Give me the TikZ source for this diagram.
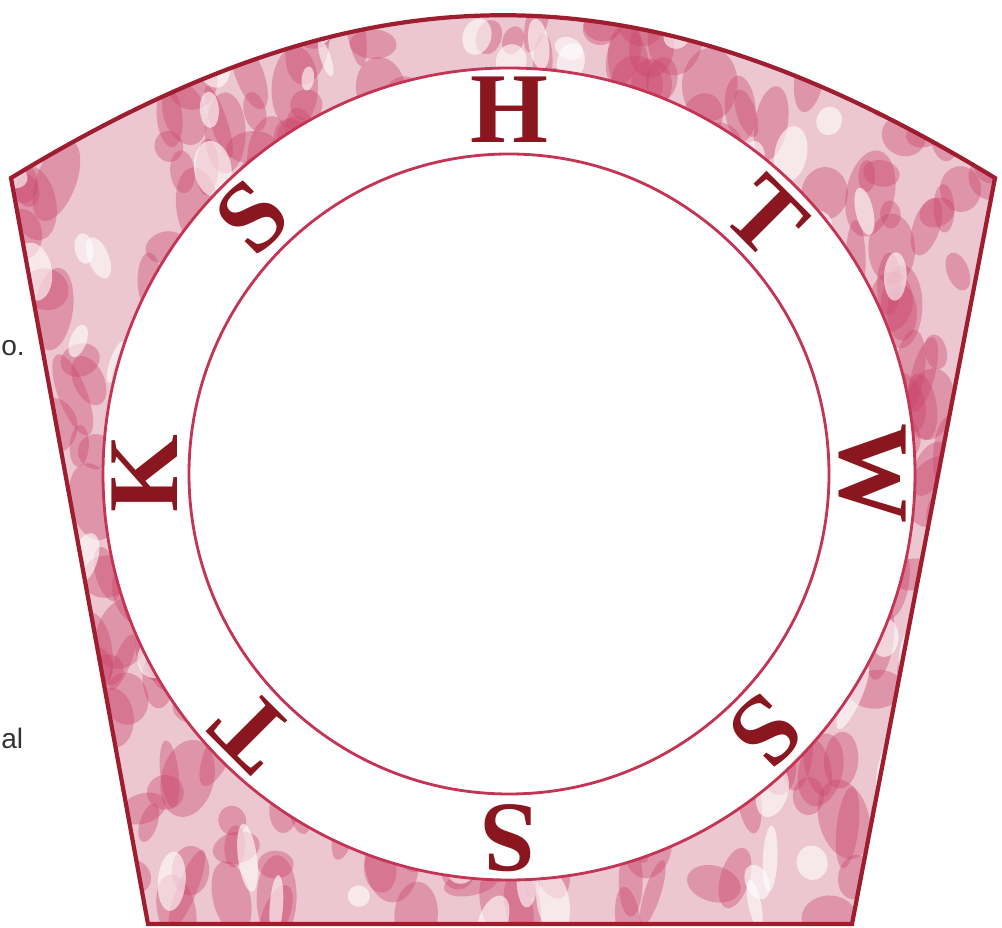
\documentclass[tikz,border=0pt]{standalone}
\usepackage{fontspec}
\setmainfont{Liberation Serif}
\newfontfamily\fragfont{Liberation Sans}
\usetikzlibrary{calc}
\definecolor{KSBorder}{RGB}{158,30,48}
\definecolor{KSRing}{RGB}{196,52,84}
\definecolor{KSLetter}{RGB}{138,22,32}
\definecolor{KSLight}{RGB}{236,198,209}
\definecolor{KSDark}{RGB}{204,70,106}

\begin{document}
\begin{tikzpicture}[
  x=0.02cm, y=-0.02cm,
  letter/.style={font=\fontsize{57}{57}\selectfont\bfseries, text=KSLetter, inner sep=0pt},
  ring/.style={draw=KSRing, line width=1.6pt},
  edge/.style={draw=KSBorder, line width=2.4pt, line join=miter},
  frag/.style={font=\fragfont\fontsize{16}{16}\selectfont, text=black!80, inner sep=0pt}
]
  \useasboundingbox (0,0) rectangle (1002,928);

  \coordinate (tl) at (11,178);
  \coordinate (tr) at (995,178);
  \coordinate (br) at (852,924);
  \coordinate (bl) at (148,924);
  \coordinate (c)  at (509,474);

  % marbled stone
  \begin{scope}
    \clip (tl) .. controls (367,-39) and (639,-39) .. (tr) -- (br) -- (bl) -- cycle;
    \fill[KSLight] (0,0) rectangle (1002,928);
    \pgfmathsetseed{23}
    \foreach \i in {1,...,520} {
      \pgfmathsetmacro\bx{rnd*1002}
      \pgfmathsetmacro\by{rnd*928}
      \pgfmathsetmacro\bw{8+rnd*20}
      \pgfmathsetmacro\bh{12+rnd*32}
      \pgfmathsetmacro\br{rnd*50-25}
      \fill[KSDark, opacity=0.38, rotate around={\br:(\bx,\by)}] (\bx,\by) ellipse ({\bw} and {\bh});
    }
    \foreach \i in {1,...,130} {
      \pgfmathsetmacro\bx{rnd*1002}
      \pgfmathsetmacro\by{rnd*928}
      \pgfmathsetmacro\bw{5+rnd*14}
      \pgfmathsetmacro\bh{10+rnd*26}
      \pgfmathsetmacro\br{rnd*50-25}
      \fill[white, opacity=0.6, rotate around={\br:(\bx,\by)}] (\bx,\by) ellipse ({\bw} and {\bh});
    }
  \end{scope}

  % rings
  \fill[white] (c) circle (406);
  \draw[ring] (c) circle (406);
  \draw[ring] (c) circle (320);

  \draw[edge] (tl) .. controls (367,-39) and (639,-39) .. (tr) -- (br) -- (bl) -- cycle;

  % letters round the ring
  \foreach \a/\t [count=\i] in {90/H, 45/T, 0/W, -45/S, -90/S, -135/T, 180/K, 135/S}
    \node[letter, rotate=\a-90] (let\i) at ({509+364*cos(\a)}, {474-364*sin(\a)}) {\t};

  % cut-off words of the page
  \node[frag, anchor=west] (frag1) at (1,348) {o.};
  \node[frag, anchor=west] (frag2) at (1,738) {al};
\end{tikzpicture}
\end{document}
